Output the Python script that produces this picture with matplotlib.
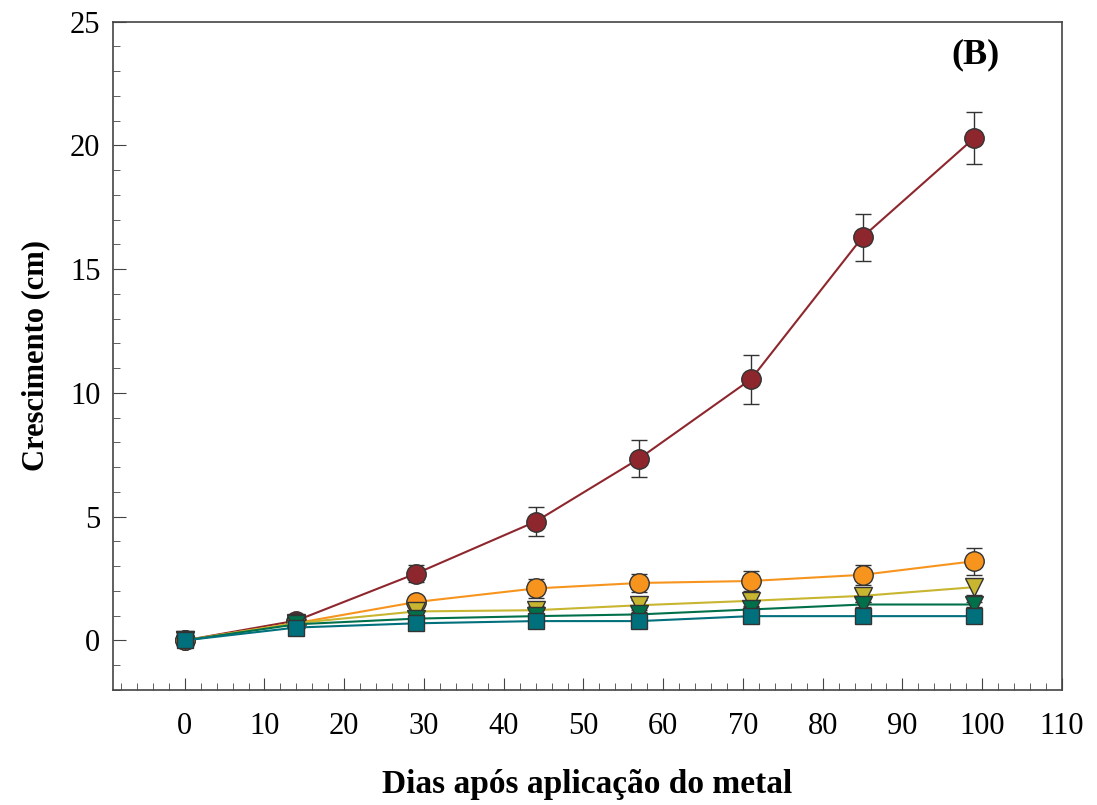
import matplotlib.pyplot as plt
import numpy as np
from matplotlib.ticker import MultipleLocator

plt.rcParams['font.family'] = ['Liberation Serif', 'DejaVu Serif']

# dias após aplicação
dias = [0, 14, 29, 44, 57, 71, 85, 99]

# séries (cm)
vermelho = [0, 0.8, 2.7, 4.8, 7.35, 10.55, 16.3, 20.3]
vermelho_err = [0, 0.1, 0.35, 0.6, 0.75, 1.0, 0.95, 1.05]
laranja = [0, 0.7, 1.55, 2.1, 2.32, 2.4, 2.65, 3.2]
laranja_err = [0, 0.1, 0.2, 0.38, 0.38, 0.42, 0.4, 0.55]
amarelo = [0, 0.7, 1.17, 1.22, 1.42, 1.6, 1.8, 2.15]
amarelo_err = [0, 0.1, 0.15, 0.15, 0.2, 0.22, 0.25, 0.3]
verde = [0, 0.65, 0.88, 0.98, 1.05, 1.25, 1.45, 1.45]
verde_err = [0, 0.05, 0.1, 0.1, 0.1, 0.1, 0.1, 0.1]
azul = [0, 0.52, 0.69, 0.78, 0.78, 0.98, 0.98, 0.98]
azul_err = [0, 0.05, 0.08, 0.08, 0.08, 0.08, 0.08, 0.08]

series = [
    (vermelho, vermelho_err, '#8E272D', 'o'),
    (laranja, laranja_err, '#F7941D', 'o'),
    (amarelo, amarelo_err, '#C8B530', 'v'),
    (verde, verde_err, '#00704A', 'v'),
    (azul, azul_err, '#00707C', 's'),
]

fig = plt.figure(figsize=(10.97, 8.05), dpi=100)
ax = fig.add_axes([0.103, 0.143, 0.865, 0.830])

for y, e, c, m in series:
    ms = 14 if m == 'o' else (13 if m == 'v' else 12)
    ax.errorbar(dias, y, yerr=e, color=c, lw=1.5, marker=m, ms=ms,
                mfc=c, mec='#333333', mew=1.0, ecolor='#333333',
                elinewidth=1.0, capsize=6, capthick=1.0)

ax.set_xlim(-9, 110)
ax.set_ylim(-2, 25)
ax.xaxis.set_major_locator(MultipleLocator(10))
ax.xaxis.set_minor_locator(MultipleLocator(2))
ax.yaxis.set_major_locator(MultipleLocator(5))
ax.yaxis.set_minor_locator(MultipleLocator(1))
ax.tick_params(which='both', direction='in', color='#444444')
ax.tick_params(which='major', length=9, labelsize=22)
ax.tick_params(which='minor', length=5)
ax.tick_params(axis='x', which='major', pad=16)
ax.tick_params(axis='y', which='major', pad=9)
for s in ax.spines.values():
    s.set_color('#444444')
    s.set_linewidth(1.2)

ax.set_xlabel('Dias após aplicação do metal', fontsize=24, fontweight='bold', labelpad=20)
ax.set_ylabel('Crescimento (cm)', fontsize=22, fontweight='bold', labelpad=14)
ax.text(0.909, 0.95, '(B)', transform=ax.transAxes, fontsize=26, fontweight='bold',
        ha='center', va='center')

fig.savefig('out.png', dpi=100)
